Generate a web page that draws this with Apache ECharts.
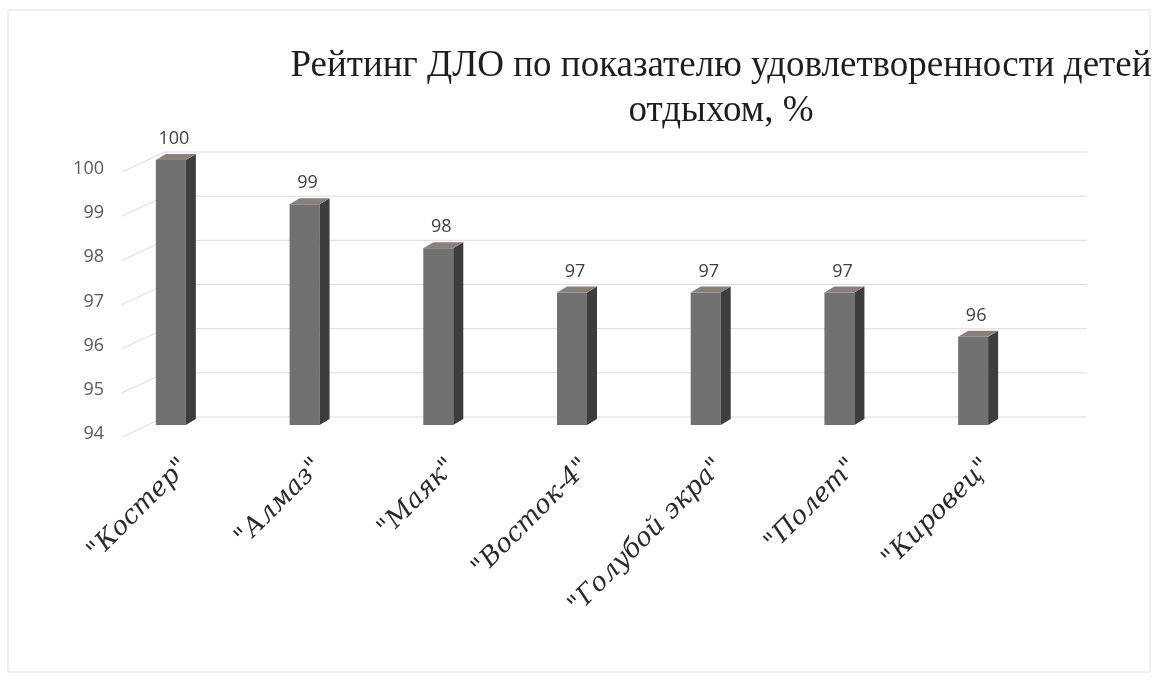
<!DOCTYPE html>
<html>
<head>
<meta charset="utf-8">
<script src="https://cdn.jsdelivr.net/npm/echarts@6/dist/echarts.min.js"></script>
<style>
  html, body { margin: 0; padding: 0; background: #fff; }
  #chart { width: 1158px; height: 680px; }
</style>
</head>
<body>
<div id="chart"></div>
<script>
// данные рейтинга
var camps = ['"Костер"', '"Алмаз"', '"Маяк"', '"Восток-4"', '"Голубой экра"', '"Полет"', '"Кировец"'];
var satisfaction = [100, 99, 98, 97, 97, 97, 96];
var yTicks = [94, 95, 96, 97, 98, 99, 100];
var yMin = 94;
var yMax = 100;

var myChart = echarts.init(document.getElementById('chart'));

// объемный столбик: лицевая грань, боковая, верх + подпись
function renderBar(params, api) {
    var top = api.coord([api.value(0), api.value(1)]);
    var base = api.coord([api.value(0), yMin]);
    var c = top[0], w = 30, dx = 10, dy = 6;
    var l = c - w / 2, r = c + w / 2;
    return {
        type: 'group',
        children: [
            {
                type: 'rect',
                shape: { x: l, y: top[1], width: w, height: base[1] - top[1] },
                style: { fill: '#717171' }
            },
            {
                type: 'polygon',
                shape: { points: [[r, top[1]], [r + dx, top[1] - dy], [r + dx, base[1] - dy], [r, base[1]]] },
                style: { fill: '#3d3d3d' }
            },
            {
                type: 'polygon',
                shape: { points: [[l, top[1]], [l + dx, top[1] - dy], [r + dx, top[1] - dy], [r, top[1]]] },
                style: { fill: '#86817b' }
            },
            {
                type: 'text',
                style: {
                    text: String(api.value(1)),
                    x: c + 3,
                    y: top[1] - dy - 6,
                    align: 'center',
                    verticalAlign: 'bottom',
                    fill: '#404040',
                    font: '18px "Open Sans"'
                }
            },
            // подпись категории под углом 45°, сдвинута как на объемной диаграмме
            {
                type: 'text',
                x: c + 14,
                y: base[1] + 38,
                rotation: Math.PI / 4,
                style: {
                    text: camps[api.value(0)],
                    x: 0,
                    y: 0,
                    align: 'right',
                    verticalAlign: 'middle',
                    fill: '#2a2a2a',
                    font: 'italic 26px "DejaVu Serif"'
                }
            }
        ]
    };
}

// линии сетки на задней стенке + диагонали пола
function renderGrid(params, api) {
    var y = api.coord([0, api.value(0)])[1];
    var gx = params.coordSys.x;
    var gw = params.coordSys.width;
    var st = { stroke: '#dcdcdc', lineWidth: 1 };
    return {
        type: 'group',
        children: [
            { type: 'line', shape: { x1: gx + 18, y1: y + 12, x2: gx + 61, y2: y - 8 }, style: st },
            { type: 'line', shape: { x1: gx + 61, y1: y - 8, x2: gx + gw + 47, y2: y - 8 }, style: st }
        ]
    };
}

var option = {
    backgroundColor: '#fff',
    animation: false,
    title: {
        text: 'Рейтинг ДЛО по показателю удовлетворенности детей\nотдыхом, %',
        left: 716,
        top: 39,
        textAlign: 'center',
        textStyle: {
            fontFamily: 'Liberation Serif',
            fontSize: 37,
            fontWeight: 'normal',
            color: '#1e1e1e',
            lineHeight: 45
        }
    },
    graphic: [{
        type: 'rect',
        shape: { x: 8, y: 10, width: 1142, height: 662 },
        style: { fill: 'none', stroke: '#e2e2e2', lineWidth: 1 },
        silent: true
    }],
    grid: { left: 104, right: 118, top: 160, bottom: 255 },
    xAxis: {
        type: 'category',
        data: camps,
        axisLine: { show: false },
        axisTick: { show: false },
        axisLabel: { show: false }
    },
    yAxis: {
        type: 'value',
        min: yMin,
        max: yMax,
        interval: 1,
        splitLine: { show: false },
        axisLine: { show: false },
        axisTick: { show: false },
        axisLabel: {
            margin: 0,
            verticalAlign: 'top',
            lineHeight: 18,
            fontFamily: 'Open Sans',
            fontSize: 18,
            color: '#595959'
        }
    },
    series: [
        {
            type: 'custom',
            renderItem: renderGrid,
            data: yTicks.map(function (v) { return [v]; }),
            encode: { y: 0 },
            silent: true,
            z: 1
        },
        {
            type: 'custom',
            renderItem: renderBar,
            data: satisfaction.map(function (v, i) { return [i, v]; }),
            encode: { x: 0, y: 1 },
            z: 2
        }
    ]
};

myChart.setOption(option);
</script>
</body>
</html>
